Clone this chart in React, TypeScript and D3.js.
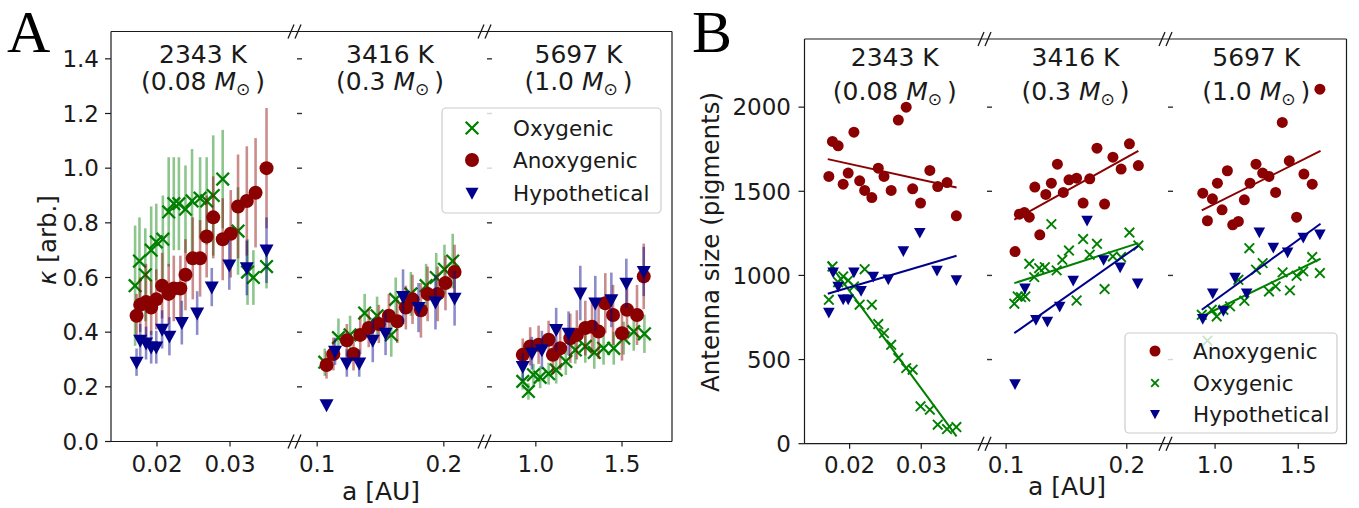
import React from 'react';
import * as d3 from 'd3';

const FONT = "'DejaVu Sans', sans-serif";
const INK = '#1a1a1a';
const C_OXY = '#008000';
const C_ANOXY = '#8b0000';
const C_HYPO = '#00008b';

// ---------- shared axis data ----------
const STAR_TEMPS = ['2343 K', '3416 K', '5697 K'];
const STAR_MASSES = ['0.08', '0.3', '1.0'];
const X_DOMAINS: [number, number][] = [[0.0137, 0.0389], [0.0825, 0.2325], [0.705, 1.79]];
const X_TICKS = [[0.02, 0.03], [0.1, 0.2], [1.0, 1.5]];
const X_TICK_FMT = ['.2f', '.1f', '.1f'];
const A_Y_TICKS = [0, 0.2, 0.4, 0.6, 0.8, 1.0, 1.2, 1.4];
const B_Y_TICKS = [0, 500, 1000, 1500, 2000];
const A_Y_MAX = 1.5;
const B_Y_MAX = 2405;

// ---------- Panel A: kappa ----------
// 2343 K
const A1_OXY_X = [0.0170, 0.0176, 0.0184, 0.0192, 0.0199, 0.0208, 0.0216, 0.0223, 0.0230, 0.0239, 0.0248, 0.0259, 0.0268, 0.0277, 0.0290, 0.0311, 0.0324, 0.0332, 0.0350];
const A1_OXY_Y = [0.57, 0.66, 0.61, 0.70, 0.73, 0.74, 0.84, 0.87, 0.87, 0.85, 0.88, 0.89, 0.88, 0.90, 0.96, 0.77, 0.62, 0.60, 0.64];
const A1_OXY_E = [0.22, 0.16, 0.17, 0.16, 0.14, 0.16, 0.20, 0.17, 0.17, 0.16, 0.19, 0.15, 0.16, 0.22, 0.18, 0.16, 0.12, 0.10, 0.08];
const A1_ANOXY_X = [0.0172, 0.0177, 0.0185, 0.0192, 0.0199, 0.0207, 0.0216, 0.0223, 0.0232, 0.0239, 0.0249, 0.0259, 0.0268, 0.0277, 0.0290, 0.0301, 0.0311, 0.0323, 0.0335, 0.0350];
const A1_ANOXY_Y = [0.46, 0.50, 0.51, 0.49, 0.52, 0.57, 0.54, 0.56, 0.56, 0.61, 0.67, 0.67, 0.75, 0.82, 0.74, 0.76, 0.86, 0.88, 0.91, 1.00];
const A1_ANOXY_E = [0.08, 0.10, 0.14, 0.10, 0.11, 0.12, 0.11, 0.12, 0.12, 0.13, 0.15, 0.14, 0.15, 0.15, 0.15, 0.16, 0.19, 0.20, 0.20, 0.22];
const A1_HYPO_X = [0.0172, 0.0177, 0.0185, 0.0192, 0.0199, 0.0207, 0.0217, 0.0234, 0.0255, 0.0275, 0.0299, 0.0323, 0.0350];
const A1_HYPO_Y = [0.29, 0.37, 0.36, 0.345, 0.345, 0.41, 0.385, 0.435, 0.47, 0.565, 0.645, 0.635, 0.70];
const A1_HYPO_E = [0.05, 0.06, 0.06, 0.06, 0.06, 0.07, 0.07, 0.08, 0.08, 0.07, 0.09, 0.10, 0.12];
// 3416 K
const A2_OXY_X = [0.106, 0.1168, 0.126, 0.1375, 0.1473, 0.1585, 0.162, 0.174, 0.186, 0.194, 0.2005, 0.207];
const A2_OXY_Y = [0.29, 0.38, 0.39, 0.47, 0.46, 0.39, 0.52, 0.54, 0.57, 0.60, 0.63, 0.66];
const A2_OXY_E = [0.05, 0.07, 0.07, 0.07, 0.07, 0.08, 0.08, 0.08, 0.08, 0.09, 0.09, 0.10];
const A2_ANOXY_X = [0.1074, 0.1128, 0.1234, 0.1287, 0.134, 0.1407, 0.1487, 0.1566, 0.1633, 0.17, 0.1753, 0.1819, 0.1872, 0.1952, 0.2013, 0.2085];
const A2_ANOXY_Y = [0.28, 0.32, 0.37, 0.32, 0.39, 0.415, 0.43, 0.46, 0.44, 0.49, 0.52, 0.48, 0.54, 0.54, 0.58, 0.62];
const A2_ANOXY_E = [0.05, 0.06, 0.06, 0.06, 0.07, 0.07, 0.07, 0.08, 0.08, 0.08, 0.09, 0.10, 0.10, 0.10, 0.10, 0.10];
const A2_HYPO_X = [0.1074, 0.1141, 0.1234, 0.1332, 0.1439, 0.154, 0.1678, 0.18, 0.1934, 0.2085];
const A2_HYPO_Y = [0.134, 0.33, 0.287, 0.287, 0.37, 0.396, 0.53, 0.49, 0.51, 0.524];
const A2_HYPO_E = [0.0, 0.05, 0.05, 0.05, 0.08, 0.08, 0.10, 0.09, 0.10, 0.10];
// 5697 K
const A3_OXY_X = [0.924, 0.957, 0.986, 1.025, 1.074, 1.118, 1.174, 1.229, 1.287, 1.339, 1.393, 1.452, 1.51, 1.568, 1.63];
const A3_OXY_Y = [0.22, 0.183, 0.244, 0.235, 0.248, 0.262, 0.293, 0.335, 0.348, 0.326, 0.341, 0.341, 0.378, 0.402, 0.394];
const A3_OXY_E = [0.03, 0.03, 0.04, 0.04, 0.04, 0.05, 0.05, 0.05, 0.06, 0.06, 0.06, 0.06, 0.06, 0.07, 0.07];
const A3_ANOXY_X = [0.924, 0.967, 1.016, 1.074, 1.099, 1.141, 1.2, 1.238, 1.287, 1.326, 1.364, 1.403, 1.448, 1.5, 1.529, 1.587, 1.626];
const A3_ANOXY_Y = [0.317, 0.348, 0.354, 0.372, 0.317, 0.341, 0.378, 0.39, 0.415, 0.42, 0.402, 0.506, 0.463, 0.396, 0.482, 0.463, 0.604];
const A3_ANOXY_E = [0.06, 0.07, 0.07, 0.07, 0.07, 0.08, 0.09, 0.09, 0.10, 0.10, 0.10, 0.11, 0.11, 0.10, 0.11, 0.11, 0.12];
const A3_HYPO_X = [0.924, 0.977, 1.035, 1.118, 1.19, 1.258, 1.345, 1.438, 1.525, 1.626];
const A3_HYPO_Y = [0.274, 0.323, 0.335, 0.409, 0.396, 0.543, 0.506, 0.518, 0.579, 0.622];
const A3_HYPO_E = [0.05, 0.06, 0.07, 0.08, 0.08, 0.10, 0.10, 0.10, 0.09, 0.09];

// ---------- Panel B: antenna size ----------
// 2343 K
const B1_ANOXY_X = [0.0171, 0.0176, 0.0184, 0.0191, 0.0198, 0.0206, 0.0214, 0.0221, 0.0231, 0.0240, 0.0248, 0.0258, 0.0268, 0.0279, 0.0288, 0.0299, 0.0312, 0.0323, 0.0336, 0.0349];
const B1_ANOXY_Y = [1588, 1796, 1770, 1542, 1608, 1851, 1562, 1505, 1463, 1637, 1588, 1505, 1923, 2000, 1515, 1430, 1624, 1528, 1552, 1354];
const B1_ANOXY_FIT = [[0.01695, 1691], [0.03493, 1523]];
const B1_OXY_X = [0.0171, 0.0176, 0.0184, 0.0191, 0.0198, 0.0206, 0.0214, 0.0221, 0.0231, 0.0240, 0.0248, 0.0258, 0.0268, 0.0279, 0.0288, 0.0299, 0.0312, 0.0323, 0.0336, 0.0349];
const B1_OXY_Y = [855, 1053, 960, 994, 970, 935, 826, 1037, 826, 711, 657, 588, 509, 449, 440, 222, 202, 113, 87, 99];
const B1_OXY_FIT = [[0.01695, 1083], [0.03493, 44]];
const B1_HYPO_X = [0.0171, 0.0177, 0.0184, 0.0191, 0.0198, 0.0206, 0.0216, 0.0233, 0.0254, 0.0275, 0.0298, 0.0322, 0.0349];
const B1_HYPO_Y = [780, 1020, 935, 859, 859, 1020, 909, 994, 978, 1146, 1255, 1030, 974];
const B1_HYPO_FIT = [[0.01695, 891], [0.03493, 1117]];
// 3416 K
const B2_ANOXY_X = [0.1074, 0.111, 0.1151, 0.1192, 0.1238, 0.1279, 0.1329, 0.1375, 0.1425, 0.1474, 0.1521, 0.1584, 0.1638, 0.1693, 0.1753, 0.1816, 0.1885, 0.1953, 0.2022, 0.2096];
const B2_ANOXY_Y = [1142, 1364, 1374, 1346, 1525, 1241, 1481, 1548, 1661, 1493, 1568, 1578, 1430, 1574, 1756, 1424, 1703, 1632, 1782, 1653];
const B2_ANOXY_FIT = [[0.1068, 1331], [0.2096, 1740]];
const B2_OXY_X = [0.1068, 0.1096, 0.1123, 0.1159, 0.1192, 0.1233, 0.1274, 0.1321, 0.1375, 0.1419, 0.1466, 0.1521, 0.1584, 0.1638, 0.1693, 0.1753, 0.1816, 0.1885, 0.1953, 0.2022, 0.2096];
const B2_OXY_Y = [832, 875, 871, 875, 1069, 990, 1043, 1049, 1305, 1030, 1093, 1148, 851, 1216, 1123, 1188, 919, 1113, 1109, 1255, 1178];
const B2_OXY_FIT = [[0.1068, 954], [0.2096, 1192]];
const B2_HYPO_X = [0.1074, 0.1156, 0.1247, 0.1342, 0.1444, 0.1556, 0.1671, 0.1808, 0.1945, 0.209];
const B2_HYPO_Y = [356, 925, 737, 727, 816, 970, 1327, 1093, 1049, 954];
const B2_HYPO_FIT = [[0.1068, 657], [0.2096, 1176]];
// 5697 K
const B3_ANOXY_X = [0.926, 0.954, 0.984, 1.014, 1.042, 1.074, 1.106, 1.14, 1.176, 1.21, 1.246, 1.286, 1.324, 1.364, 1.404, 1.446, 1.49, 1.534, 1.584, 1.63];
const B3_ANOXY_Y = [1489, 1325, 1455, 1548, 1390, 1622, 1301, 1321, 1449, 1548, 1661, 1608, 1588, 1493, 1909, 1681, 1346, 1602, 1542, 2107];
const B3_ANOXY_FIT = [[0.92, 1386], [1.634, 1740]];
const B3_OXY_X = [0.92, 0.954, 0.98, 1.01, 1.05, 1.09, 1.14, 1.176, 1.206, 1.246, 1.286, 1.324, 1.364, 1.406, 1.45, 1.49, 1.53, 1.584, 1.63];
const B3_OXY_Y = [766, 612, 796, 756, 796, 816, 974, 849, 1162, 1034, 1073, 905, 935, 1018, 911, 998, 1024, 1109, 1014];
const B3_OXY_FIT = [[0.92, 756], [1.634, 1099]];
const B3_HYPO_X = [0.926, 0.986, 1.05, 1.12, 1.19, 1.266, 1.35, 1.436, 1.53, 1.63];
const B3_HYPO_Y = [743, 895, 790, 988, 895, 1257, 1166, 1139, 1226, 1245];
const B3_HYPO_FIT = [[0.92, 796], [1.634, 1307]];

type Kind = 'x' | 'o' | 'v';
interface Series { name: string; color: string; kind: Kind; xs: number[]; ys: number[]; errs?: number[]; fit?: number[][]; }

const oxy = (xs: number[], ys: number[], errs?: number[], fit?: number[][]): Series => ({ name: 'Oxygenic', color: C_OXY, kind: 'x', xs, ys, errs, fit });
const anoxy = (xs: number[], ys: number[], errs?: number[], fit?: number[][]): Series => ({ name: 'Anoxygenic', color: C_ANOXY, kind: 'o', xs, ys, errs, fit });
const hypo = (xs: number[], ys: number[], errs?: number[], fit?: number[][]): Series => ({ name: 'Hypothetical', color: C_HYPO, kind: 'v', xs, ys, errs, fit });

const A_SUBS: Series[][] = [
  [oxy(A1_OXY_X, A1_OXY_Y, A1_OXY_E), anoxy(A1_ANOXY_X, A1_ANOXY_Y, A1_ANOXY_E), hypo(A1_HYPO_X, A1_HYPO_Y, A1_HYPO_E)],
  [oxy(A2_OXY_X, A2_OXY_Y, A2_OXY_E), anoxy(A2_ANOXY_X, A2_ANOXY_Y, A2_ANOXY_E), hypo(A2_HYPO_X, A2_HYPO_Y, A2_HYPO_E)],
  [oxy(A3_OXY_X, A3_OXY_Y, A3_OXY_E), anoxy(A3_ANOXY_X, A3_ANOXY_Y, A3_ANOXY_E), hypo(A3_HYPO_X, A3_HYPO_Y, A3_HYPO_E)],
];
const B_SUBS: Series[][] = [
  [anoxy(B1_ANOXY_X, B1_ANOXY_Y, undefined, B1_ANOXY_FIT), oxy(B1_OXY_X, B1_OXY_Y, undefined, B1_OXY_FIT), hypo(B1_HYPO_X, B1_HYPO_Y, undefined, B1_HYPO_FIT)],
  [anoxy(B2_ANOXY_X, B2_ANOXY_Y, undefined, B2_ANOXY_FIT), oxy(B2_OXY_X, B2_OXY_Y, undefined, B2_OXY_FIT), hypo(B2_HYPO_X, B2_HYPO_Y, undefined, B2_HYPO_FIT)],
  [anoxy(B3_ANOXY_X, B3_ANOXY_Y, undefined, B3_ANOXY_FIT), oxy(B3_OXY_X, B3_OXY_Y, undefined, B3_OXY_FIT), hypo(B3_HYPO_X, B3_HYPO_Y, undefined, B3_HYPO_FIT)],
];

interface MSize { o: number; x: number; xw: number; v: number; }

function marker(kind: Kind, x: number, y: number, s: MSize, color: string, key: string) {
  if (kind === 'o') return <circle key={key} cx={x} cy={y} r={s.o} fill={color} />;
  if (kind === 'x') {
    const h = s.x;
    return <path key={key} d={`M${x - h},${y - h}L${x + h},${y + h}M${x - h},${y + h}L${x + h},${y - h}`} stroke={color} strokeWidth={s.xw} fill="none" />;
  }
  const h = s.v;
  return <path key={key} d={`M${x - h},${y - 0.8 * h}L${x + h},${y - 0.8 * h}L${x},${y + 1.05 * h}Z`} fill={color} />;
}

interface PanelProps {
  id: string;
  bounds: number[];
  top: number;
  bottom: number;
  yMax: number;
  yTicks: number[];
  yFmt: (v: number) => string;
  yTickRight: number;
  subs: Series[][];
  size: MSize;
  legendSize: MSize;
  errW: number;
  title1: number;
  title2: number;
  xTickBaseline: number;
  legend: { x0: number; x1: number; y0: number; y1: number; mx: number; tx: number; rows: number[] };
  xLabel: { x: number; y: number };
  yLabel: { x: number; y: number; text: React.ReactNode };
  letter: { x: number; text: string };
}

function BreakMark({ x, y }: { x: number; y: number }) {
  return (
    <g stroke={INK} strokeWidth={1.3}>
      {[-4, 3].map((o) => (
        <line key={o} x1={x + o - 3} y1={y + 7} x2={x + o + 3} y2={y - 7} />
      ))}
    </g>
  );
}

function Panel(p: PanelProps) {
  const y = d3.scaleLinear().domain([0, p.yMax]).range([p.bottom, p.top]);
  const xs = X_DOMAINS.map((d, i) => d3.scaleLinear().domain(d).range([p.bounds[i], p.bounds[i + 1]]));
  const left = p.bounds[0];
  const right = p.bounds[3];
  return (
    <g fontFamily={FONT} fill={INK}>
      {/* data */}
      {p.subs.map((sub, si) => (
        <g key={si}>
          {sub.map((s, k) => (
            <g key={k}>
              {s.errs &&
                s.xs.map((xv, i) => (
                  <line key={'e' + i} x1={xs[si](xv)} x2={xs[si](xv)} y1={y(s.ys[i] - s.errs![i])} y2={y(s.ys[i] + s.errs![i])}
                    stroke={s.color} strokeOpacity={0.45} strokeWidth={p.errW} />
                ))}
              {s.xs.map((xv, i) => marker(s.kind, xs[si](xv), y(s.ys[i]), p.size, s.color, 'm' + i))}
              {s.fit && (
                <line x1={xs[si](s.fit[0][0])} y1={y(s.fit[0][1])} x2={xs[si](s.fit[1][0])} y2={y(s.fit[1][1])} stroke={s.color} strokeWidth={2} />
              )}
            </g>
          ))}
        </g>
      ))}
      {/* spines */}
      <g stroke={INK} strokeWidth={1.2} fill="none">
        <line x1={left} x2={right} y1={p.top} y2={p.top} />
        <line x1={left} x2={right} y1={p.bottom} y2={p.bottom} />
        <line x1={left} x2={left} y1={p.top} y2={p.bottom} />
        <line x1={right} x2={right} y1={p.top} y2={p.bottom} />
      </g>
      {[1, 2].map((i) => (
        <g key={'b' + i}>
          <BreakMark x={p.bounds[i]} y={p.top} />
          <BreakMark x={p.bounds[i]} y={p.bottom} />
        </g>
      ))}
      {/* y ticks */}
      {p.yTicks.map((t) => (
        <g key={'yt' + t}>
          <line x1={left - 6} x2={left} y1={y(t)} y2={y(t)} stroke={INK} strokeWidth={1.2} />
          <text x={p.yTickRight} y={y(t)} dy="0.36em" textAnchor="end" fontSize={23}>{p.yFmt(t)}</text>
          {t > 0 && [1, 2].map((i) => (
            <line key={i} x1={p.bounds[i] + 2} x2={p.bounds[i] + 7} y1={y(t)} y2={y(t)} stroke="#333" strokeWidth={1.4} />
          ))}
        </g>
      ))}
      {/* x ticks */}
      {X_TICKS.map((ticks, si) =>
        ticks.map((t) => (
          <g key={'xt' + si + t}>
            <line x1={xs[si](t)} x2={xs[si](t)} y1={p.bottom} y2={p.bottom + 5} stroke={INK} strokeWidth={1.2} />
            <text x={xs[si](t)} y={p.xTickBaseline} textAnchor="middle" fontSize={23}>{d3.format(X_TICK_FMT[si])(t)}</text>
          </g>
        ))
      )}
      {/* titles */}
      {STAR_TEMPS.map((tt, i) => {
        const cx = (p.bounds[i] + p.bounds[i + 1]) / 2;
        return (
          <g key={'title' + i}>
            <text x={cx} y={p.title1} textAnchor="middle" fontSize={25}>{tt}</text>
            <text x={cx} y={p.title2} textAnchor="middle" fontSize={25}>
              ({STAR_MASSES[i]} <tspan fontStyle="italic">M</tspan>
              <tspan fontSize={17} dy={5}>⊙</tspan>
              <tspan dy={-5}>{'\u2009)'}</tspan>
            </text>
          </g>
        );
      })}
      {/* legend */}
      <rect x={p.legend.x0} y={p.legend.y0} width={p.legend.x1 - p.legend.x0} height={p.legend.y1 - p.legend.y0} rx={4}
        fill="#fff" fillOpacity={0.8} stroke="#cccccc" strokeWidth={1.2} />
      {p.subs[0].map((s, k) => (
        <g key={'lg' + k}>
          {marker(s.kind, p.legend.mx, p.legend.rows[k], p.legendSize, s.color, 'lm' + k)}
          <text x={p.legend.tx} y={p.legend.rows[k]} dy="0.36em" fontSize={21.5}>{s.name}</text>
        </g>
      ))}
      {/* axis labels */}
      <text x={p.xLabel.x} y={p.xLabel.y} textAnchor="middle" fontSize={25}>a [AU]</text>
      <text transform={`translate(${p.yLabel.x},${p.yLabel.y}) rotate(-90)`} textAnchor="middle" fontSize={24.5}>{p.yLabel.text}</text>
      <text x={p.letter.x} y={52} fontFamily="'Liberation Serif', serif" fontSize={60} fill="#000">{p.letter.text}</text>
    </g>
  );
}

export default function App() {
  return (
    <svg width={1359} height={508} style={{ position: 'absolute', left: 0, top: 0, background: '#fff' }}>
      <rect width={1359} height={508} fill="#fff" />
      <Panel
        id="A"
        bounds={[111, 295, 485, 672]}
        top={31.5}
        bottom={441.5}
        yMax={A_Y_MAX}
        yTicks={A_Y_TICKS}
        yFmt={d3.format('.1f')}
        yTickRight={99}
        subs={A_SUBS}
        size={{ o: 7, x: 6.3, xw: 2.3, v: 7 }}
        legendSize={{ o: 7, x: 6.3, xw: 2.3, v: 6.5 }}
        errW={2.6}
        title1={63}
        title2={89.5}
        xTickBaseline={472}
        legend={{ x0: 442, x1: 661, y0: 108, y1: 213, mx: 472, tx: 513, rows: [128, 160, 193] }}
        xLabel={{ x: 381, y: 500 }}
        yLabel={{ x: 56, y: 240, text: <><tspan fontStyle="italic">κ</tspan> [arb.]</> }}
        letter={{ x: 7, text: 'A' }}
      />
      <Panel
        id="B"
        bounds={[804.5, 985, 1166, 1346.5]}
        top={39}
        bottom={443.7}
        yMax={B_Y_MAX}
        yTicks={B_Y_TICKS}
        yFmt={d3.format('d')}
        yTickRight={791}
        subs={B_SUBS}
        size={{ o: 5.5, x: 4.8, xw: 1.9, v: 5.8 }}
        legendSize={{ o: 5.5, x: 3.8, xw: 1.9, v: 5 }}
        errW={2}
        title1={66}
        title2={100}
        xTickBaseline={473}
        legend={{ x0: 1125, x1: 1337, y0: 333, y1: 433, mx: 1155, tx: 1193, rows: [351, 383, 414] }}
        xLabel={{ x: 1067, y: 495 }}
        yLabel={{ x: 719, y: 242, text: 'Antenna size (pigments)' }}
        letter={{ x: 692, text: 'B' }}
      />
    </svg>
  );
}
